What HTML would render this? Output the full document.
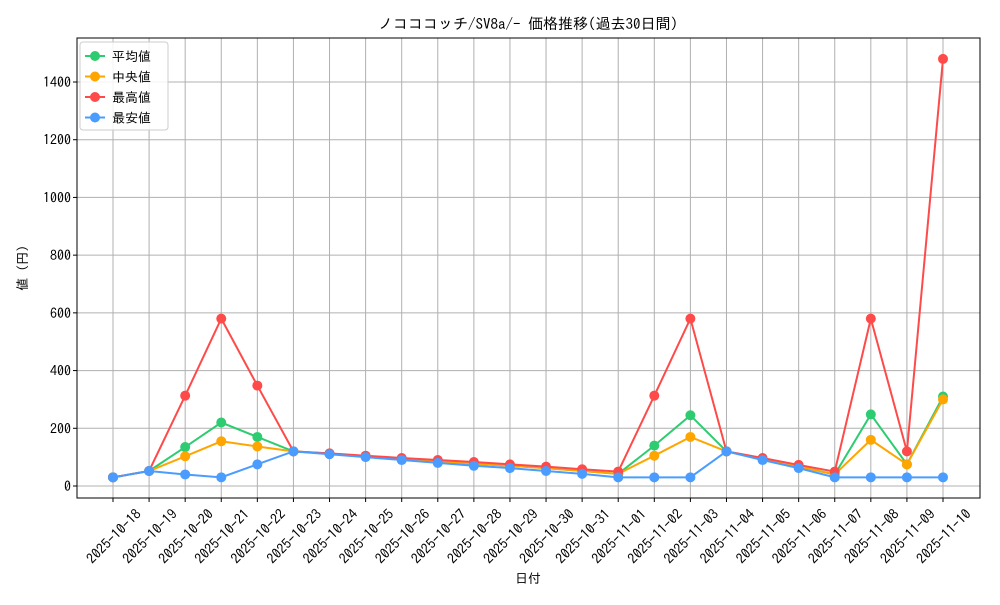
<!DOCTYPE html>
<html><head><meta charset="utf-8"><style>
body{margin:0;background:#fff}
svg text{font-family:"IPAGothic","Noto Sans CJK JP",sans-serif;fill:#000}
</style></head><body>
<svg id="c" width="1000" height="600"></svg>
<script>
const categories=["2025-10-18","2025-10-19","2025-10-20","2025-10-21","2025-10-22","2025-10-23","2025-10-24","2025-10-25","2025-10-26","2025-10-27","2025-10-28","2025-10-29","2025-10-30","2025-10-31","2025-11-01","2025-11-02","2025-11-03","2025-11-04","2025-11-05","2025-11-06","2025-11-07","2025-11-08","2025-11-09","2025-11-10"];
const avgValues=[30,52,135,220,170,120,112,103,95,85,77,70,62,52,42,140,245,120,93,68,40,248,75,310];
const medValues=[30,52,103,155,137,120,112,103,95,85,78,70,62,52,42,105,170,120,93,68,40,160,75,300];
const maxValues=[30,52,313,580,348,120,113,105,97,90,83,75,67,58,50,313,580,120,97,73,50,580,120,1480];
const minValues=[30,52,40,30,75,120,110,100,90,80,70,62,52,42,30,30,30,120,90,62,30,30,30,30];
const yTicks=[0,200,400,600,800,1000,1200,1400];
const seriesNames=["平均値","中央値","最高値","最安値"];
const NS="http://www.w3.org/2000/svg";
const svg=document.getElementById('c');
const L=77,R=980,T=38,B=498;
const x=i=>113+i*(943-113)/(categories.length-1);
const y=v=>486-(v)*(486-82)/1400;
function el(t,a,p){const e=document.createElementNS(NS,t);for(const k in a)e.setAttribute(k,a[k]);(p||svg).appendChild(e);return e;}
categories.forEach((c,i)=>{
 const g=el('line',{x1:x(i),x2:x(i),y1:T,y2:B,stroke:'#b0b0b0','stroke-width':1});
 
 
 el('line',{x1:x(i),x2:x(i),y1:B,y2:B+4,stroke:'#000'});
 const t=el('text',{x:0,y:0,'font-size':14,'text-anchor':'end',transform:`translate(${x(i)+29},${B+17}) rotate(-45)`});
 t.textContent=c;
 
 
});
yTicks.forEach(v=>{
 const g=el('line',{x1:L,x2:R,y1:y(v),y2:y(v),stroke:'#b0b0b0','stroke-width':1});
 
 
 el('line',{x1:L-4,x2:L,y1:y(v),y2:y(v),stroke:'#000'});
 const t=el('text',{x:L-6,y:y(v)+5,'font-size':14,'text-anchor':'end'});
 t.textContent=v;
 
 
});
const fr=el('rect',{x:L,y:T,width:R-L,height:B-T,fill:'none',stroke:'#000','stroke-width':1});


const series=[[avgValues,'#2ecc71'],[medValues,'#ffa500'],[maxValues,'#ff4a4a'],[minValues,'#4a9cff']];
series.forEach(([vals,col],si)=>{
 const g=el('g',{});
 
 
 el('polyline',{points:vals.map((v,i)=>x(i)+','+y(v)).join(' '),fill:'none',stroke:col,'stroke-width':2},g);
 vals.forEach((v,i)=>{const c=el('circle',{cx:x(i),cy:y(v),r:5,fill:col},g);
  
  });
});
const lg=el('g',{});


el('rect',{x:80,y:42,width:88,height:88,rx:3,fill:'#fff','fill-opacity':0.85,stroke:'#ccc'},lg);
series.forEach(([v,col],i)=>{
 const yy=56+i*20.5;
 el('line',{x1:85,x2:105,y1:yy,y2:yy,stroke:col,'stroke-width':2},lg);
 el('circle',{cx:95,cy:yy,r:5,fill:col},lg);
 const t=el('text',{x:112,y:yy+5,'font-size':13},lg);
 t.textContent=seriesNames[i];
 
 
});
const ti=el('text',{x:528,y:29,'font-size':15,'text-anchor':'middle'});
ti.textContent='ノコココッチ/SV8a/- 価格推移(過去30日間)';


const xt=el('text',{x:528,y:583,'font-size':13,'text-anchor':'middle'});
xt.textContent='日付';


const yt=el('text',{x:0,y:0,'font-size':13,'text-anchor':'middle',transform:'translate(27,268) rotate(-90)'});
yt.textContent='値 (円)';


</script>
</body></html>
